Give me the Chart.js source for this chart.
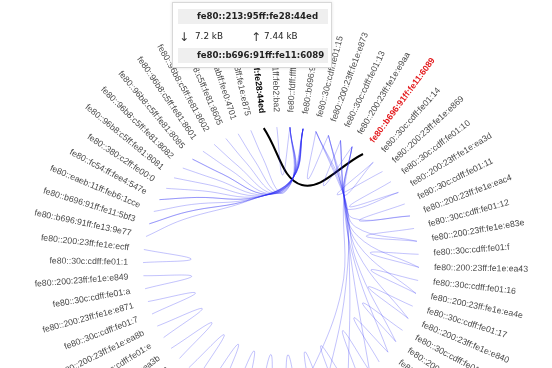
<!DOCTYPE html>
<html>
<head>
<meta charset="utf-8">
<script src="https://cdn.jsdelivr.net/npm/chart.js@4.4.1/dist/chart.umd.min.js"></script>
<style>
html,body{margin:0;padding:0;background:#fff;}
#wrap{position:relative;width:552px;height:368px;overflow:hidden;}
#c{position:absolute;left:0;top:0;}
#tip{position:absolute;left:172px;top:2px;width:158px;height:64px;background:#fff;border:1px solid #d8d8d8;box-shadow:0 0 3px rgba(0,0,0,0.12);font-family:'DejaVu Sans',Verdana,sans-serif;color:#222;}
#tip .bar{position:absolute;left:5px;width:150px;height:15px;background:#efefef;}
#tip .name{position:absolute;left:19px;top:0;font-weight:bold;font-size:8.6px;line-height:15px;white-space:nowrap;}
#tip .arr{position:absolute;font-size:12px;line-height:14px;color:#333;}
#tip .val{position:absolute;font-size:8.8px;line-height:12px;white-space:nowrap;}
</style>
</head>
<body>
<div id="wrap">
<canvas id="c" width="552" height="368"></canvas>
<div id="tip">
  <div class="bar" style="top:6px"><span class="name" id="tSrc"></span></div>
  <span class="arr" style="left:6px;top:27px">↓</span>
  <span class="val" id="tDown" style="left:22px;top:27px"></span>
  <span class="arr" style="left:78px;top:27px">↑</span>
  <span class="val" id="tUp" style="left:91px;top:27px"></span>
  <div class="bar" style="top:45px"><span class="name" id="tDst"></span></div>
</div>
</div>
<script>
// ---------- data ----------
const nodeNames = [
  "fe80::30c:cdff:fe01:1","fe80::200:23ff:fe1e:ecff","fe80::b696:91ff:fe13:9e77","fe80::b696:91ff:fe11:5bf3",
  "fe80::eaeb:11ff:feb6:1cce","fe80::fc54:ff:fee4:547e","fe80::380:c2ff:fe00:0","fe80::96b8:c5ff:fe81:8081",
  "fe80::96b8:c5ff:fe81:8082","fe80::96b8:c5ff:fe81:8085","fe80::96b8:c5ff:fe81:8601","fe80::96b8:c5ff:fe81:8602",
  "fe80::96b8:c5ff:fe81:8605","fe80::21b:abff:fee0:4701","fe80::200:23ff:fe1e:e875","fe80::213:95ff:fe28:44ed",
  "fe80::eaeb:11ff:feb2:ba2","fe80::fdff:ffff:fe00:1","fe80::b696:91ff:fe11:6a2b","fe80::30c:cdff:fe01:15",
  "fe80::200:23ff:fe1e:e873","fe80::30c:cdff:fe01:13","fe80::200:23ff:fe1e:e9aa","fe80::b696:91ff:fe11:6089",
  "fe80::30c:cdff:fe01:14","fe80::200:23ff:fe1e:e869","fe80::30c:cdff:fe01:10","fe80::200:23ff:fe1e:ea3d",
  "fe80::30c:cdff:fe01:11","fe80::200:23ff:fe1e:eac4","fe80::30c:cdff:fe01:12","fe80::200:23ff:fe1e:e83e",
  "fe80::30c:cdff:fe01:f","fe80::200:23ff:fe1e:ea43","fe80::30c:cdff:fe01:16","fe80::200:23ff:fe1e:ea4e",
  "fe80::30c:cdff:fe01:17","fe80::200:23ff:fe1e:e840","fe80::30c:cdff:fe01:18","fe80::200:23ff:fe1e:e9b1",
  "fe80::30c:cdff:fe01:19","fe80::200:23ff:fe1e:ea51","fe80::30c:cdff:fe01:1a","fe80::200:23ff:fe1e:e86c",
  "fe80::30c:cdff:fe01:1b","fe80::200:23ff:fe1e:ea20","fe80::30c:cdff:fe01:1c","fe80::200:23ff:fe1e:e9f2",
  "fe80::30c:cdff:fe01:1d","fe80::200:23ff:fe1e:e8a7","fe80::30c:cdff:fe01:2","fe80::200:23ff:fe1e:ea12",
  "fe80::30c:cdff:fe01:3","fe80::200:23ff:fe1e:e85d","fe80::30c:cdff:fe01:4","fe80::200:23ff:fe1e:e9c8",
  "fe80::30c:cdff:fe01:5","fe80::200:23ff:fe1e:ea6f","fe80::30c:cdff:fe01:6","fe80::200:23ff:fe1e:ea3b",
  "fe80::30c:cdff:fe01:e","fe80::200:23ff:fe1e:ea8b","fe80::30c:cdff:fe01:7","fe80::200:23ff:fe1e:e871",
  "fe80::30c:cdff:fe01:a","fe80::200:23ff:fe1e:e849"
];
// links (indices into nodeNames)
const linkFrom = [
  0,64,62,60,58,56,54,52,50,48,46,44,42,40,
  38,36,34,32,30,28,26,24,19,21,
  2,3,4,5,6,7,8,9,10,11,12,13,14,16,3,5,9,
  24,27,29,31,33,35,37,39,
  40,42,44,46,48
];
const linkTo = [
  1,65,63,61,59,57,55,53,51,49,47,45,43,41,
  39,37,35,33,31,29,27,25,20,22,
  18,17,18,17,18,17,18,17,18,17,18,17,18,17,18,18,18,
  22,21,20,19,22,21,20,19,
  22,21,20,19,22
];
const selectedSource = "fe80::213:95ff:fe28:44ed";
const selectedTarget = "fe80::b696:91ff:fe11:6089";
const trafficDown = "7.2 kB";
const trafficUp = "7.44 kB";

// ---------- layout ----------
const N = nodeNames.length;
const START = 271, R = 138, R_LABEL = 153;
const ang = i => START + i * 360 / N;
const norm = a => ((a % 360) + 360) % 360;
const sdelta = (a, b) => ((b - a + 540) % 360) - 180;
const polar = (a, r) => ({x: r * Math.sin(a * Math.PI / 180), y: r * Math.cos(a * Math.PI / 180)});
const HUBS = [
  {targets: [17, 18], a: 7.9, r: 88, inner: 72},
  {targets: [19, 20, 21, 22], a: 42, r: 94, inner: 0}
];
function route(i, j) {
  const a = ang(i), b = ang(j);
  const d = sdelta(a, b), ad = Math.abs(d);
  const hub = ad >= 8 ? HUBS.find(h => h.targets.includes(j)) : null;
  if (hub) {
    const dh = sdelta(a, hub.a);
    const pts = [polar(a, R)];
    if (Math.abs(dh) > 15) {
      if (hub.inner) {
        pts.push(polar(a + 0.15 * dh, 108));
        pts.push(polar(a + 0.6 * dh, hub.inner));
      } else {
        pts.push(polar(a + 0.45 * dh, R * (0.66 - 0.25 * Math.abs(dh) / 180)));
      }
    }
    pts.push(polar(hub.a, hub.r));
    pts.push(polar(b, R));
    return pts;
  }
  let mid = a + d / 2;
  const m = norm(mid);
  if (ad < 8 && m > 35 && m < 150) mid -= 6;
  const rm = R * (0.66 - 0.25 * ad / 180);
  if (ad < 50) return [polar(a, R), polar(mid, rm), polar(b, R)];
  return [polar(a, R), polar(a + 0.12 * d, 100), polar(mid, rm), polar(b - 0.12 * d, 100), polar(b, R)];
}
const srcIdx = nodeNames.indexOf(selectedSource), dstIdx = nodeNames.indexOf(selectedTarget);
const datasets = linkFrom.map((f, k) => ({
  data: route(f, linkTo[k]), showLine: true, fill: false, tension: 0.4,
  borderColor: 'rgba(40,40,245,0.28)', borderWidth: 1, pointRadius: 0
}));
datasets.push({data: route(srcIdx, dstIdx), showLine: true, fill: false, tension: 0.4,
  borderColor: '#000', borderWidth: 2, pointRadius: 0});

const labelPlugin = {
  id: 'nodeLabels',
  afterDatasetsDraw(chart) {
    const ctx = chart.ctx, xs = chart.scales.x, ys = chart.scales.y;
    nodeNames.forEach((name, i) => {
      const a = norm(ang(i)), p = polar(a, R_LABEL);
      ctx.save();
      ctx.translate(xs.getPixelForValue(p.x), ys.getPixelForValue(p.y));
      ctx.rotate((a - 90) * Math.PI / 180);
      if (a >= 180) { ctx.rotate(Math.PI); ctx.textAlign = 'right'; } else ctx.textAlign = 'left';
      ctx.textBaseline = 'middle';
      let font = "8.7px 'Liberation Sans', Arial, sans-serif", col = '#4a4a4a';
      if (name === selectedSource) { font = "bold 8.7px 'Liberation Sans', Arial, sans-serif"; col = '#000'; }
      if (name === selectedTarget) { font = "bold 8.7px 'Liberation Sans', Arial, sans-serif"; col = '#e3191c'; }
      ctx.font = font; ctx.fillStyle = col;
      ctx.fillText(name, 0, 0);
      ctx.restore();
    });
  }
};

new Chart(document.getElementById('c'), {
  type: 'scatter',
  data: {datasets},
  options: {
    responsive: false, animation: false, devicePixelRatio: 1, events: [],
    layout: {padding: 0},
    elements: {line: {capBezierPoints: false}},
    scales: {
      x: {type: 'linear', min: -281, max: 271, display: false},
      y: {type: 'linear', min: -103, max: 265, display: false}
    },
    plugins: {legend: {display: false}, tooltip: {enabled: false}}
  },
  plugins: [labelPlugin]
});
document.getElementById('tSrc').textContent = selectedSource;
document.getElementById('tDst').textContent = selectedTarget;
document.getElementById('tDown').textContent = trafficDown;
document.getElementById('tUp').textContent = trafficUp;
</script>
</body>
</html>
